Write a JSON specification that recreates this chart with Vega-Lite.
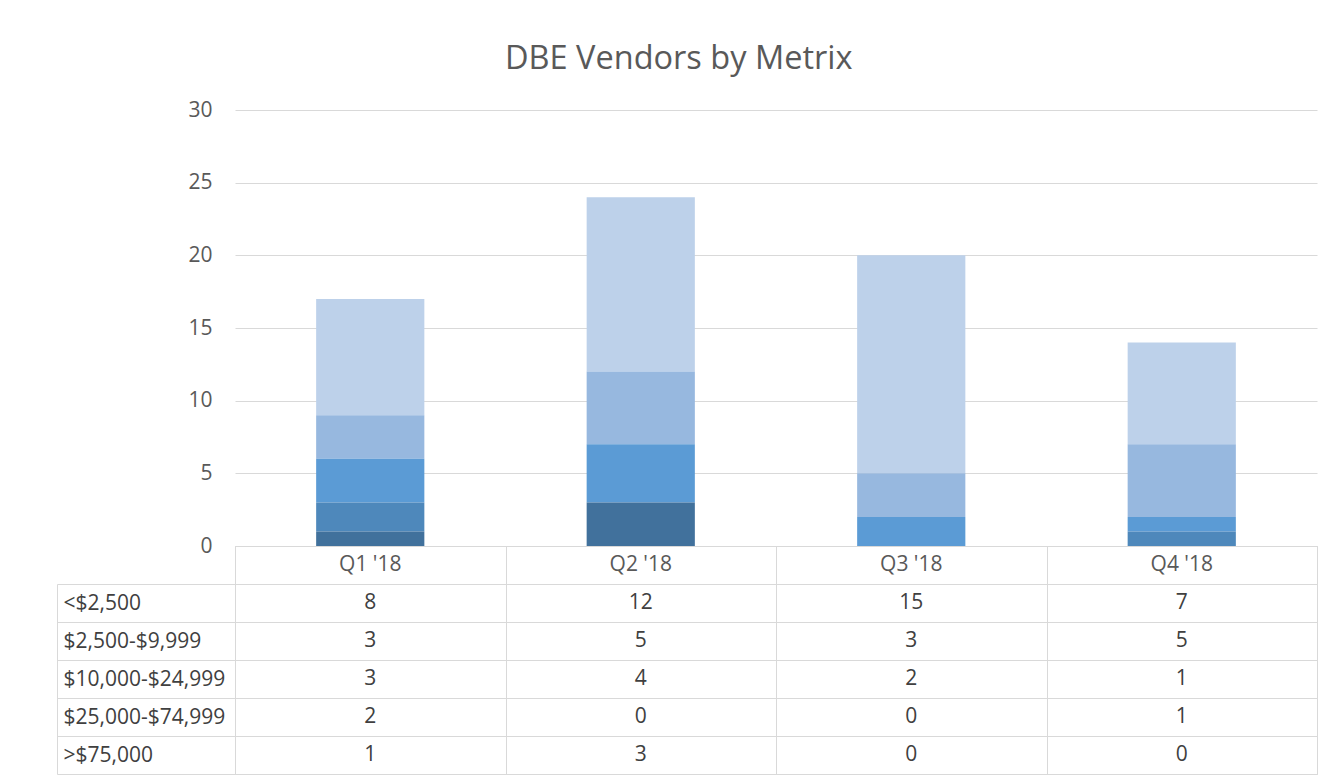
{
  "$schema": "https://vega.github.io/schema/vega-lite/v6.json",
  "padding": {"left": 56, "top": 42, "right": 0, "bottom": 0},
  "background": "white",
  "config": {"font": "Open Sans", "view": {"stroke": null}},
  "title": {"text": "DBE Vendors by Metrix", "fontSize": 32.5, "fontWeight": "normal", "color": "#595959", "anchor": "middle", "frame": "bounds", "offset": 24, "dx": -8},
  "data": {"values": [
    {"quarter": "Q1 '18", "range": "<$2,500", "count": 8},
    {"quarter": "Q1 '18", "range": "$2,500-$9,999", "count": 3},
    {"quarter": "Q1 '18", "range": "$10,000-$24,999", "count": 3},
    {"quarter": "Q1 '18", "range": "$25,000-$74,999", "count": 2},
    {"quarter": "Q1 '18", "range": ">$75,000", "count": 1},
    {"quarter": "Q2 '18", "range": "<$2,500", "count": 12},
    {"quarter": "Q2 '18", "range": "$2,500-$9,999", "count": 5},
    {"quarter": "Q2 '18", "range": "$10,000-$24,999", "count": 4},
    {"quarter": "Q2 '18", "range": "$25,000-$74,999", "count": 0},
    {"quarter": "Q2 '18", "range": ">$75,000", "count": 3},
    {"quarter": "Q3 '18", "range": "<$2,500", "count": 15},
    {"quarter": "Q3 '18", "range": "$2,500-$9,999", "count": 3},
    {"quarter": "Q3 '18", "range": "$10,000-$24,999", "count": 2},
    {"quarter": "Q3 '18", "range": "$25,000-$74,999", "count": 0},
    {"quarter": "Q3 '18", "range": ">$75,000", "count": 0},
    {"quarter": "Q4 '18", "range": "<$2,500", "count": 7},
    {"quarter": "Q4 '18", "range": "$2,500-$9,999", "count": 5},
    {"quarter": "Q4 '18", "range": "$10,000-$24,999", "count": 1},
    {"quarter": "Q4 '18", "range": "$25,000-$74,999", "count": 1},
    {"quarter": "Q4 '18", "range": ">$75,000", "count": 0}
  ]},
  "vconcat": [
    {
      "width": 1082,
      "height": 436,
      "transform": [
        {"calculate": "indexof(['>$75,000','$25,000-$74,999','$10,000-$24,999','$2,500-$9,999','<$2,500'], datum.range)", "as": "stackOrder"}
      ],
      "mark": {"type": "bar"},
      "encoding": {
        "x": {
          "field": "quarter", "type": "nominal", "sort": null,
          "scale": {"paddingInner": 0.6, "paddingOuter": 0.3},
          "axis": null
        },
        "y": {
          "field": "count", "type": "quantitative", "stack": "zero",
          "scale": {"domain": [0, 30], "nice": false},
          "axis": {"title": null, "values": [0, 5, 10, 15, 20, 25, 30], "domain": false, "ticks": false, "labelPadding": 23, "labelFontSize": 21, "labelColor": "#595959", "gridColor": "#d9d9d9", "gridWidth": 1}
        },
        "order": {"field": "stackOrder", "type": "quantitative", "sort": "ascending"},
        "color": {
          "field": "range", "type": "nominal",
          "scale": {"domain": [">$75,000", "$25,000-$74,999", "$10,000-$24,999", "$2,500-$9,999", "<$2,500"], "range": ["#41719C", "#4E88BB", "#5B9BD5", "#97B8DF", "#BDD1EA"]},
          "legend": null
        }
      }
    },
    {
      "width": 1082,
      "height": 228,
      "view": {"stroke": "#d9d9d9"},
      "encoding": {
        "x": {
          "field": "quarter", "type": "nominal", "sort": null,
          "scale": {"paddingInner": 0, "paddingOuter": 0},
          "axis": {"title": null, "labels": false, "ticks": false, "domain": false, "grid": true, "gridColor": "#d9d9d9", "tickBand": "extent"}
        }
      },
      "layer": [
        {
          "mark": {"type": "text", "fontSize": 21, "color": "#404040"},
          "encoding": {
            "y": {
              "field": "range", "type": "nominal",
              "scale": {"domain": [" ", "<$2,500", "$2,500-$9,999", "$10,000-$24,999", "$25,000-$74,999", ">$75,000"], "paddingInner": 0, "paddingOuter": 0},
              "axis": {"title": null, "offset": 178, "tickSize": -178, "tickColor": "#d9d9d9", "tickOpacity": {"condition": {"test": "datum.extra", "value": 0}, "value": 1}, "domainColor": "#d9d9d9", "domainDash": [190, 38], "domainDashOffset": 190, "tickBand": "extent", "grid": true, "gridColor": "#d9d9d9", "labelAlign": "left", "labelBaseline": "middle", "labelPadding": 172, "labelFontSize": 21, "labelColor": "#404040", "labelLimit": 0}
            },
            "text": {"field": "count", "type": "quantitative"}
          }
        },
        {
          "transform": [{"aggregate": [], "groupby": ["quarter"]}],
          "mark": {"type": "text", "fontSize": 21, "color": "#595959"},
          "encoding": {
            "y": {"datum": " ", "type": "nominal"},
            "text": {"field": "quarter", "type": "nominal"}
          }
        }
      ]
    }
  ],
  "spacing": 0,
  "bounds": "flush",
  "resolve": {"scale": {"x": "independent", "y": "independent"}}
}
